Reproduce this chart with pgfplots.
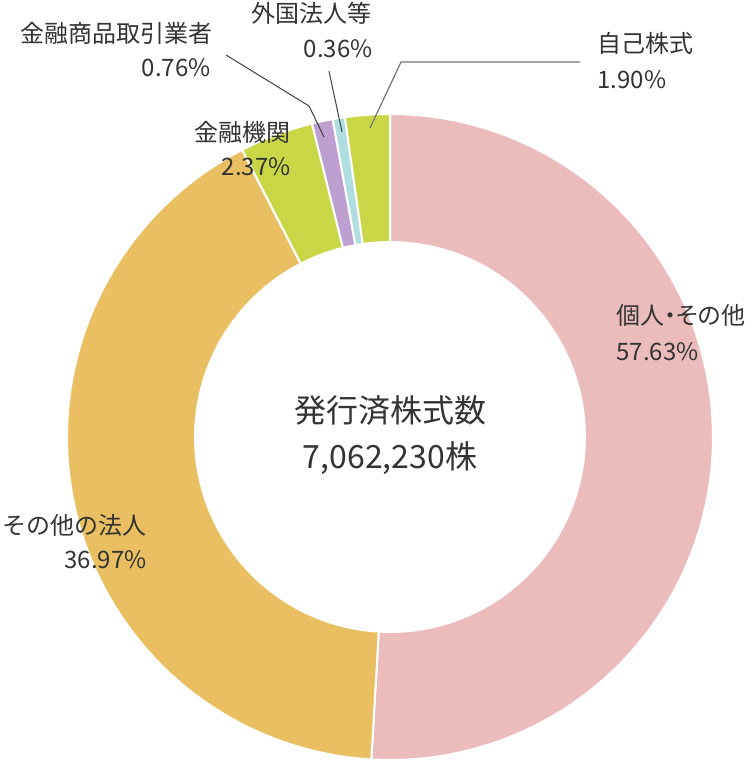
\documentclass[border=0pt]{standalone}
\usepackage{fontspec}
\setmainfont{Noto Sans CJK JP}
\usepackage{pgfplots}
\usepackage{pgfplotstable}
\pgfplotsset{compat=1.18}

\definecolor{cPink}{HTML}{ECBBBC}
\definecolor{cGold}{HTML}{E9BF61}
\definecolor{cGreen}{HTML}{C9D747}
\definecolor{cPurple}{HTML}{BDA0D1}
\definecolor{cBlue}{HTML}{AEDEDF}
\definecolor{txt}{HTML}{333333}

% wedges clockwise from 12 o'clock; share = size of the wedge as drawn (%),
% printed = figure written in the label
\pgfplotstableread[col sep=comma]{
share,printed,colour
50.92,57.63,cPink
41.51,36.97,cGold
3.69,2.37,cGreen
1.04,0.76,cPurple
0.61,0.36,cBlue
2.23,1.90,cGreen
}\shares

\newcommand\lab{\fontsize{12}{14}\selectfont}
\newcommand\centerfont{\fontsize{16}{19}\selectfont}

\begin{document}
\begin{tikzpicture}
\begin{axis}[
  x=0.5pt, y=0.5pt,
  xmin=-390, xmax=362, ymin=-325, ymax=437,
  hide axis, clip=false, no markers,
]
\path (axis cs:-390,-325) rectangle (axis cs:362,437);

\def\cum{0}
\pgfplotsforeachungrouped \i in {0,...,5}{%
  \pgfplotstablegetelem{\i}{share}\of\shares \let\segval\pgfplotsretval
  \pgfplotstablegetelem{\i}{colour}\of\shares \let\segcol\pgfplotsretval
  \pgfmathsetmacro\segA{3.6*\cum}
  \pgfmathsetmacro\segB{3.6*(\cum+\segval)}
  \edef\segplot{\noexpand\addplot[fill=\segcol, draw=white, line width=1pt,
      domain=\segA:\segB, samples=80]
      ({323*sin(x)},{323*cos(x)}) -- (axis cs:0,0) -- cycle;}
  \segplot
  \pgfmathsetmacro\cum{\cum+\segval}
}
% hole of the donut
\addplot[fill=white, draw=white, line width=1pt, domain=0:360, samples=120]
  ({195*sin(x)},{195*cos(x)}) -- cycle;

% leader lines
\draw[color=black!75, line width=0.5pt] (axis cs:-164,382) -- (axis cs:-81,331) -- (axis cs:-66,300);
\draw[color=black!75, line width=0.5pt] (axis cs:-61,366) -- (axis cs:-48,305);
\draw[color=black!55, line width=0.6pt] (axis cs:190,375) -- (axis cs:11,375) -- (axis cs:-20,309);

% labels
\begin{scope}[every node/.style={inner sep=0pt, text=txt, font=\lab}]
\node[anchor=west] at (axis cs:-370,404) {金融商品取引業者};
\node[anchor=east] at (axis cs:-179,369) {0.76\%};
\node[anchor=east] at (axis cs:-18,424) {外国法人等};
\node[anchor=east] at (axis cs:-17,388) {0.36\%};
\node[anchor=west] at (axis cs:207,394) {自己株式};
\node[anchor=west] at (axis cs:207,357) {1.90\%};
\node[anchor=east] at (axis cs:-99,305) {金融機関};
\node[anchor=east] at (axis cs:-99,270) {2.37\%};
\node[anchor=west] at (axis cs:226,122) {\addfontfeatures{RawFeature=+palt}個人・その他};
\node[anchor=west] at (axis cs:226,85) {57.63\%};
\node[anchor=east] at (axis cs:-243,-88) {その他の法人};
\node[anchor=east] at (axis cs:-243,-123) {36.97\%};
\node[font=\centerfont] at (axis cs:0,27) {発行済株式数};
\node[font=\centerfont] at (axis cs:0,-21) {7,062,230株};
\end{scope}
\end{axis}
\end{tikzpicture}
\end{document}
